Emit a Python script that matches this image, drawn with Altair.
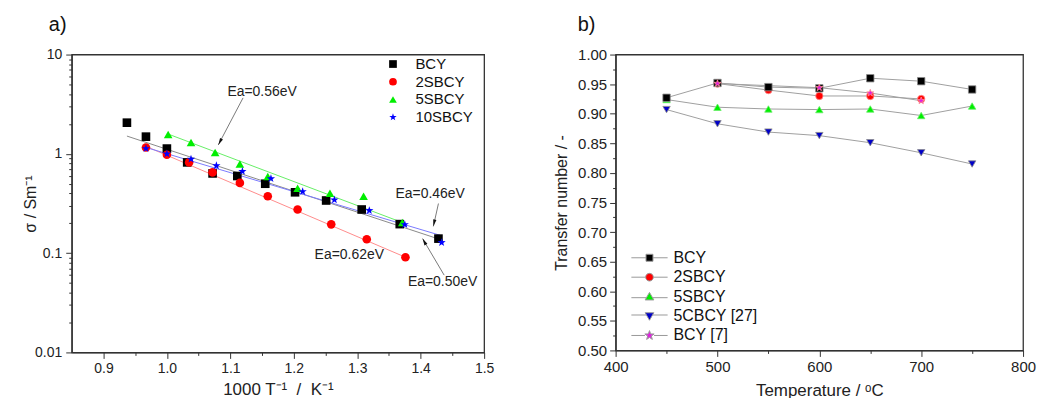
import altair as alt
import pandas as pd

FONT = "Liberation Sans"

# ---------------- Panel a: conductivity vs 1000/T ----------------
a_samples = ["BCY", "2SBCY", "5SBCY", "10SBCY"]
a_colors = ["#000000", "#ff0000", "#00ee00", "#0000ff"]
a_fit_colors = ["#8a8a8a", "#ff8c8c", "#66ee66", "#7a7aff"]

bcy_x = [0.937, 0.967, 1.000, 1.032, 1.072, 1.111, 1.155, 1.202, 1.251, 1.307, 1.367, 1.428]
bcy_s = [2.06, 1.49, 1.13, 0.82, 0.635, 0.598, 0.50, 0.41, 0.339, 0.275, 0.196, 0.140]
s2_x = [0.967, 1.000, 1.035, 1.072, 1.115, 1.159, 1.206, 1.259, 1.315, 1.376]
s2_s = [1.16, 0.98, 0.82, 0.65, 0.51, 0.374, 0.275, 0.195, 0.138, 0.091]
s5_x = [1.002, 1.038, 1.076, 1.115, 1.159, 1.206, 1.257, 1.310, 1.371]
s5_s = [1.57, 1.30, 1.03, 0.79, 0.59, 0.45, 0.40, 0.374, 0.203]
s10_x = [0.967, 1.000, 1.038, 1.078, 1.119, 1.164, 1.214, 1.264, 1.319, 1.375, 1.433]
s10_s = [1.13, 1.00, 0.885, 0.76, 0.666, 0.563, 0.417, 0.344, 0.269, 0.194, 0.128]

# linear (Arrhenius) fit lines: start / end
fit_x0 = [0.937, 0.963, 1.000, 0.967]
fit_s0 = [1.51, 1.22, 1.60, 1.16]
fit_x1 = [1.431, 1.376, 1.374, 1.431]
fit_s1 = [0.137, 0.091, 0.200, 0.151]

ann_text = ["Ea=0.56eV", "Ea=0.46eV", "Ea=0.62eV", "Ea=0.50eV"]
ann_x = [1.150, 1.415, 1.2875, 1.4345]
ann_s = [4.2, 0.395, 0.0955, 0.0509]

arr_x0 = [1.120, 1.428, 1.437]
arr_s0 = [3.66, 0.316, 0.060]
arr_x1 = [1.081, 1.420, 1.403]
arr_s1 = [1.23, 0.186, 0.140]
arr_ang = [208, 192, 331]

a_x_ticks = [0.9, 1.0, 1.1, 1.2, 1.3, 1.4, 1.5]
a_x_minor = [0.95, 1.05, 1.15, 1.25, 1.35, 1.45]
a_y_ticks = [0.01, 0.1, 1, 10]
a_y_minor = [0.02, 0.03, 0.04, 0.05, 0.06, 0.07, 0.08, 0.09,
             0.2, 0.3, 0.4, 0.5, 0.6, 0.7, 0.8, 0.9,
             2, 3, 4, 5, 6, 7, 8, 9]

# ---------------- Panel b: transfer number vs temperature ----------------
b_samples = ["BCY", "2SBCY", "5SBCY", "5CBCY [27]", "BCY [7]"]
b_colors = ["#000000", "#ff0000", "#00ee00", "#0000c8", "#e020e0"]
b_strokes = ["#000000", "#ff0000", "#00ee00", "#0000c8", "#5a005a"]

bcy_T = [450, 500, 550, 600, 650, 700, 750]
bcy_t = [0.927, 0.952, 0.945, 0.943, 0.960, 0.955, 0.941]
s2_T = [500, 550, 600, 650, 700]
s2_t = [0.951, 0.940, 0.930, 0.930, 0.925]
s5_T = [450, 500, 550, 600, 650, 700, 750]
s5_t = [0.924, 0.911, 0.908, 0.907, 0.908, 0.897, 0.913]
c5_T = [450, 500, 550, 600, 650, 700, 750]
c5_t = [0.907, 0.883, 0.869, 0.863, 0.851, 0.834, 0.815]
b7_T = [500, 600, 650, 700]
b7_t = [0.951, 0.944, 0.935, 0.922]

b_x_ticks = [400, 500, 600, 700, 800]
b_x_minor = [450, 550, 650, 750]
b_y_ticks_a = [0.50, 0.60, 0.70, 0.80, 0.90, 1.00]
b_y_ticks_b = [0.55, 0.65, 0.75, 0.85, 0.95]
b_y_minor = [0.525, 0.575, 0.625, 0.675, 0.725, 0.775, 0.825, 0.875, 0.925, 0.975]

# ---------------- shapes ----------------
STAR = ("M0,-1L0.235,-0.324L0.951,-0.309L0.38,0.124L0.588,0.809L0,0.4"
        "L-0.588,0.809L-0.38,0.124L-0.951,-0.309L-0.235,-0.324Z")
ARROW = "M0,0L-0.55,2.3L0.55,2.3Z"
LEG_SQ = "M-5.2,0H-1M1,0H5.2M-1,-1H1V1H-1Z"
LEG_CI = "M-5.2,0H-1.1M1.1,0H5.2M1.1,0A1.1,1.1,0,1,1,-1.1,0A1.1,1.1,0,1,1,1.1,0Z"
LEG_TU = "M-5.2,0.3H-1M1,0.3H5.2M0,-1.2L1.25,0.95L-1.25,0.95Z"
LEG_TD = "M-5.2,-0.3H-1M1,-0.3H5.2M0,1.2L1.25,-0.95L-1.25,-0.95Z"
LEG_ST = ("M-5.2,0H-1.3M1.3,0H5.2M0,-1.4L0.33,-0.45L1.33,-0.43L0.53,0.17L0.82,1.13L0,0.56"
          "L-0.82,1.13L-0.53,0.17L-1.33,-0.43L-0.33,-0.45Z")

# ---------------- tables ----------------
rows = []
for name, xs, ss in zip(a_samples, [bcy_x, s2_x, s5_x, s10_x], [bcy_s, s2_s, s5_s, s10_s]):
    for xv, sv in zip(xs, ss):
        rows.append({"x": xv, "s": sv, "sample": name})
df_a = pd.DataFrame(rows)

fit_rows = []
for i, name in enumerate(a_samples):
    fit_rows.append({"x": fit_x0[i], "s": fit_s0[i], "sample": name, "k": 0})
    fit_rows.append({"x": fit_x1[i], "s": fit_s1[i], "sample": name, "k": 1})
df_fit = pd.DataFrame(fit_rows)
df_ann = pd.DataFrame({"x": ann_x, "s": ann_s, "t": ann_text})
df_arr = pd.DataFrame({"x0": arr_x0, "s0": arr_s0, "x1": arr_x1, "s1": arr_s1, "ang": arr_ang})

rows = []
order_map = {"2SBCY": 0, "5SBCY": 1, "5CBCY [27]": 2, "BCY": 3, "BCY [7]": 4}
for name, Ts, ts in zip(b_samples, [bcy_T, s2_T, s5_T, c5_T, b7_T], [bcy_t, s2_t, s5_t, c5_t, b7_t]):
    for Tv, tv in zip(Ts, ts):
        rows.append({"T": Tv, "t": tv, "sample": name, "z": order_map[name]})
df_b = pd.DataFrame(rows)
df_leg = pd.DataFrame({"T": [300] * 5, "t": [0.7] * 5, "sample": b_samples})

AX = dict(labelFont=FONT, titleFont=FONT, titleFontWeight="normal", labelColor="#222222",
          titleColor="#222222", domainColor="#333333", tickColor="#333333", domainWidth=1.3,
          tickWidth=1, grid=False, labelOverlap=False)
MINOR = dict(tickSize=3, domain=False, title=None, tickColor="#333333", tickWidth=1, grid=False)

# ---------------- panel a ----------------
xa = alt.Scale(domain=[0.85, 1.5], nice=False, zero=False)
ya = alt.Scale(type="log", domain=[0.01, 10], nice=False)

xa_axis = alt.Axis(values=a_x_ticks, format=".1f", title="1000 T⁻¹\u00a0\u00a0/\u00a0\u00a0K⁻¹",
                   tickSize=6, labelFontSize=14, titleFontSize=17, labelPadding=3,
                   titlePadding=6, labelFlush=False, **AX)
ya_axis = alt.Axis(values=a_y_ticks, format="~g", title="σ / Sm⁻¹",
                   tickSize=6, labelFontSize=14, titleFontSize=16, labelPadding=4,
                   titleX=-41, titleBaseline="middle", **AX)

fits = alt.Chart(df_fit).mark_line(strokeWidth=1).encode(
    x=alt.X("x:Q", scale=xa, axis=xa_axis),
    y=alt.Y("s:Q", scale=ya, axis=ya_axis),
    detail="sample:N",
    order="k:Q",
    stroke=alt.Stroke("sample:N", scale=alt.Scale(domain=a_samples, range=a_fit_colors), legend=None),
)
arrows = alt.Chart(df_arr).mark_rule(color="#7a7a7a", strokeWidth=1).encode(
    x=alt.X("x0:Q", scale=xa, axis=xa_axis), x2="x1:Q",
    y=alt.Y("s0:Q", scale=ya, axis=ya_axis), y2="s1:Q")
heads = alt.Chart(df_arr).mark_point(shape=ARROW, filled=True, color="#111111", size=36, opacity=1).encode(
    x=alt.X("x1:Q", scale=xa, axis=xa_axis), y=alt.Y("s1:Q", scale=ya, axis=ya_axis),
    angle=alt.Angle("ang:Q", scale=None))
texts = alt.Chart(df_ann).mark_text(font=FONT, fontSize=14, color="#222222").encode(
    x=alt.X("x:Q", scale=xa, axis=xa_axis), y=alt.Y("s:Q", scale=ya, axis=ya_axis), text="t:N")
legend_a = alt.Legend(title=None, orient="none", legendX=315, legendY=2, padding=0,
                      labelFontSize=15, labelFont=FONT, symbolSize=60, rowPadding=1.8,
                      labelOffset=15, labelColor="#111111")
points_a = alt.Chart(df_a).mark_point(filled=True, size=75, opacity=1).encode(
    x=alt.X("x:Q", scale=xa, axis=xa_axis), y=alt.Y("s:Q", scale=ya, axis=ya_axis),
    color=alt.Color("sample:N", scale=alt.Scale(domain=a_samples, range=a_colors), legend=legend_a),
    shape=alt.Shape("sample:N", scale=alt.Scale(domain=a_samples, range=["square", "circle", "triangle-up", STAR]),
                    legend=legend_a),
)
minor_a = alt.Chart(df_a).mark_point(opacity=0).encode(
    x=alt.X("x:Q", scale=xa, axis=alt.Axis(values=a_x_minor, labels=False, orient="bottom", **MINOR)),
    y=alt.Y("s:Q", scale=ya, axis=alt.Axis(values=a_y_minor, labels=False, orient="left", **MINOR)),
)
panel_a = alt.layer(alt.layer(fits, arrows, heads, texts, points_a), minor_a).resolve_scale(
    x="independent", y="independent").properties(
    width=414, height=299,
    title=alt.Title("a)", anchor="start", frame="group", dx=-23, fontSize=20, font=FONT,
                    fontWeight="normal", offset=13, color="#111111"))

# ---------------- panel b ----------------
xb = alt.Scale(domain=[400, 800], nice=False, zero=False)
yb = alt.Scale(domain=[0.5, 1.0], nice=False, zero=False)
xb_axis = alt.Axis(values=b_x_ticks, format="d", title="Temperature / ᵒC", tickSize=6,
                   labelFontSize=15, titleFontSize=17, labelPadding=3, titlePadding=8, labelFlush=False, **AX)
yb_axis = alt.Axis(values=b_y_ticks_a, format=".2f", title="Transfer number / -", tickSize=6,
                   labelFontSize=15, titleFontSize=16, labelPadding=3, titleX=-54, titleBaseline="middle", **AX)
yb_axis2 = alt.Axis(values=b_y_ticks_b, format=".2f", title=None, tickSize=6, orient="left",
                    labelFontSize=15, labelPadding=3, **{k: v for k, v in AX.items() if k not in ("domainColor", "domainWidth")},
                    domain=False)

lines_b = alt.Chart(df_b).mark_line(color="#a0a0a0", strokeWidth=1).encode(
    x=alt.X("T:Q", scale=xb, axis=xb_axis),
    y=alt.Y("t:Q", scale=yb, axis=yb_axis),
    detail="sample:N", order="T:Q")
points_b = alt.Chart(df_b).mark_point(filled=True, size=55, opacity=1, strokeWidth=0.8).encode(
    x=alt.X("T:Q", scale=xb, axis=xb_axis),
    y=alt.Y("t:Q", scale=yb, axis=yb_axis),
    color=alt.Color("sample:N", scale=alt.Scale(domain=b_samples, range=b_colors), legend=None),
    stroke=alt.Stroke("sample:N", scale=alt.Scale(domain=b_samples, range=b_strokes), legend=None),
    shape=alt.Shape("sample:N", scale=alt.Scale(domain=b_samples,
                                                range=["square", "circle", "triangle-up", "triangle-down", STAR]),
                    legend=None),
    order="z:Q")
legend_b = alt.Legend(title=None, orient="none", legendX=26, legendY=196, padding=0,
                      labelFontSize=16, labelFont=FONT, symbolSize=49, rowPadding=3.5,
                      labelOffset=16, symbolStrokeColor="#9a9a9a", symbolStrokeWidth=1,
                      labelColor="#111111")
leg_b = alt.Chart(df_leg).mark_point(filled=True, size=49, opacity=1, clip=True).encode(
    x=alt.X("T:Q", scale=xb, axis=None),
    y=alt.Y("t:Q", scale=yb, axis=None),
    color=alt.Color("sample:N", scale=alt.Scale(domain=b_samples, range=b_colors), legend=legend_b),
    shape=alt.Shape("sample:N", scale=alt.Scale(domain=b_samples, range=[LEG_SQ, LEG_CI, LEG_TU, LEG_TD, LEG_ST]),
                    legend=legend_b),
)
minor_b = alt.Chart(df_b).mark_point(opacity=0).encode(
    x=alt.X("T:Q", scale=xb, axis=alt.Axis(values=b_x_minor, labels=False, orient="bottom", **MINOR)),
    y=alt.Y("t:Q", scale=yb, axis=alt.Axis(values=b_y_minor, labels=False, orient="left", **MINOR)),
)
half_b = alt.Chart(df_b).mark_point(opacity=0).encode(
    x=alt.X("T:Q", scale=xb, axis=None),
    y=alt.Y("t:Q", scale=yb, axis=yb_axis2),
)
panel_b = alt.layer(alt.layer(lines_b, points_b), leg_b, minor_b, half_b).resolve_scale(
    x="independent", y="independent", color="independent", shape="independent").properties(
    width=409, height=297,
    title=alt.Title("b)", anchor="start", frame="group", dx=-38, fontSize=20, font=FONT,
                    fontWeight="normal", offset=13, color="#111111"))

chart = alt.hconcat(panel_a, panel_b, spacing=58).properties(
    padding={"left": 22, "top": 13, "right": 0, "bottom": 0}, background="white"
).configure_view(stroke="#333333", strokeWidth=1.3).configure_axis(
    grid=False, labelFont=FONT, titleFont=FONT, titleFontWeight="normal"
).configure_legend(labelFont=FONT)

chart.save("out.html", embed_options={"renderer": "svg", "actions": False})
